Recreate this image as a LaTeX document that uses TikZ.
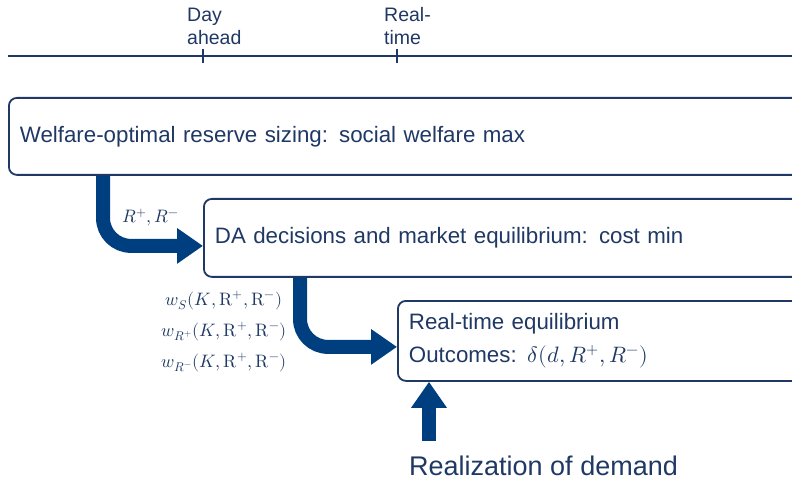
\documentclass[tikz,border=0pt]{standalone}
\usepackage{fontspec}
\usepackage{unicode-math}
\setmainfont{Liberation Sans}
\setmathfont{Latin Modern Math}
\usetikzlibrary{arrows.meta, positioning, calc}
\definecolor{navytext}{RGB}{31,56,100}
\definecolor{navyarrow}{RGB}{0,63,127}

\begin{document}
\begin{tikzpicture}[x=1pt, y=-1pt,
  stagebox/.style={draw=navytext, line width=1.8pt, rounded corners=8pt, anchor=north west,
    text width=#1, inner xsep=11pt, inner ysep=0pt, text=navytext, align=left,
    font=\fontsize{22.3}{33}\selectfont},
  flow/.style={draw=navyarrow, line width=14pt, rounded corners=28pt,
    -{Triangle[length=26pt, width=34pt]}},
  tlabel/.style={anchor=south west, align=left, inner sep=0pt, text=navytext,
    font=\fontsize{19.5}{23}\selectfont},
  mlabel/.style={inner sep=0pt, text=navytext, font=\fontsize{18}{31}\selectfont},
]
  \useasboundingbox (0,0) rectangle (792,486);
  \clip (0,0) rectangle (792,486);

  % timeline
  \draw[navytext, line width=1.5pt] (8,56) -- (792,56);
  \foreach \x in {203, 397} {
    \draw[navytext, line width=1.3pt] (\x,49) -- (\x,63);
  }
  \node[tlabel] (dayahead) at (187,45) {Day\\ahead};
  \node[tlabel] (realtime) at (384,45) {Real-\\time};

  % stages
  \node[stagebox=790pt, minimum height=77pt] (welfare) at (8,97)
    {Welfare-optimal reserve sizing: social welfare max};
  \node[stagebox=595pt, minimum height=78pt] (dabox) at (203,198)
    {DA decisions and market equilibrium: cost min};
  \node[stagebox=401pt, minimum height=80pt] (rtbox) at (397,300)
    {Real-time equilibrium\\Outcomes: $\delta(d, R^{+}, R^{-})$};

  % flows between stages
  \draw[flow] (welfare.south -| 103,0) |- ($(dabox.west)+(0,8)$);
  \draw[flow] (dabox.south -| 300,0) |- ($(rtbox.west)+(0,6)$);

  \node[mlabel, anchor=base west] (reserves) at (122,223) {$R^{+}, R^{-}$};
  \node[mlabel, anchor=north, align=center] (prices) at (224,291)
    {$w_{S}(K, \symup{R}^{+}, \symup{R}^{-})$\\
     $w_{R^{+}}(K, \symup{R}^{+}, \symup{R}^{-})$\\
     $w_{R^{-}}(K, \symup{R}^{+}, \symup{R}^{-})$};

  % demand realization
  \node[anchor=base west, inner sep=0pt, text=navytext, font=\fontsize{27}{30}\selectfont]
    (demand) at (409,475) {Realization of demand};
  \draw[flow, shorten <=14pt] (demand.north -| 429,0) -- (rtbox.south -| 429,0);
\end{tikzpicture}
\end{document}
